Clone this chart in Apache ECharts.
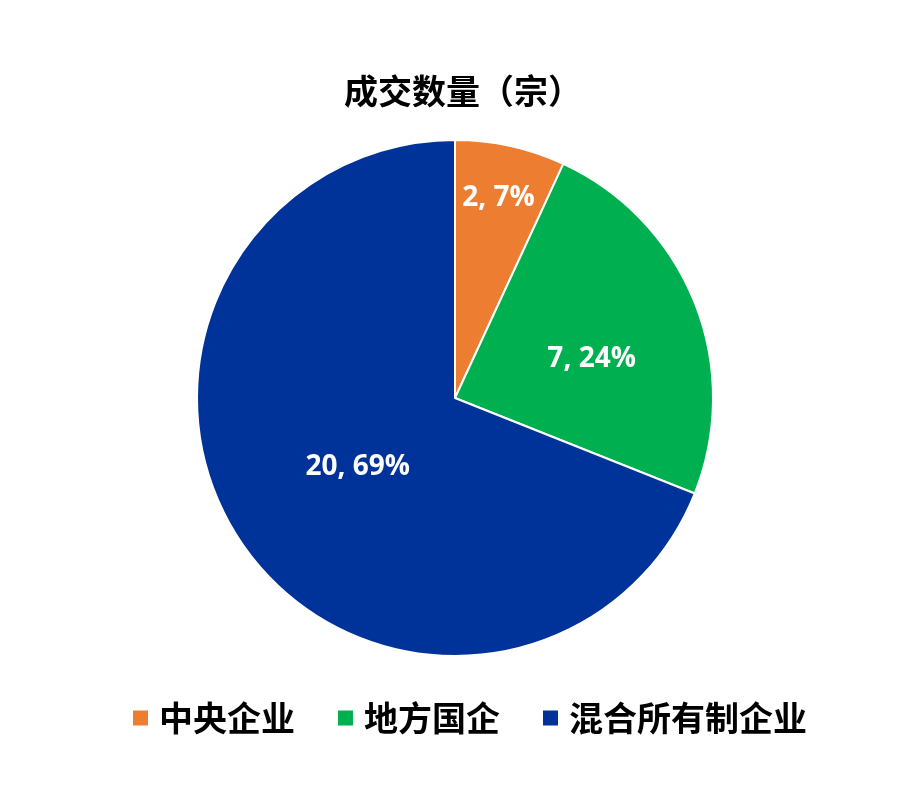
<!DOCTYPE html>
<html style="height: 100%">

<head>
    <meta charset="utf-8">
    <script src="https://cdn.jsdelivr.net/npm/echarts@6/dist/echarts.min.js"></script>
</head>

<body style="height: 100%; margin: 0; background: #fff">
    <div id="main" style="width: 909px; height: 789px"></div>
    <script type="text/javascript">
        var names = ['中央企业', '地方国企', '混合所有制企业'];
        var counts = [2, 7, 20];
        var colors = ['#ED7D31', '#00B050', '#003399'];
        // label nudges (excel "best fit" style placement)
        var labelShift = [[15, -71], [14, 10], [12, -5]];

        var myChart = echarts.init(document.getElementById('main'));
        myChart.setOption({
            animation: false,
            title: {
                text: '成交数量（宗）',
                left: 339,
                top: 69,
                textStyle: {
                    fontFamily: 'Noto Sans CJK SC',
                    fontSize: 34,
                    fontWeight: 'bold',
                    color: '#000'
                }
            },
            legend: {
                bottom: 49,
                left: 126,
                icon: 'rect',
                itemWidth: 17,
                itemHeight: 17,
                itemGap: 41,
                textStyle: {
                    fontFamily: 'Noto Sans CJK SC',
                    fontSize: 34,
                    fontWeight: 'bold',
                    color: '#000',
                    padding: [0, 0, 0, 5]
                },
                data: names
            },
            series: [{
                type: 'pie',
                center: [455, 398],
                radius: [0, 258],
                startAngle: 90,
                clockwise: true,
                percentPrecision: 0,
                itemStyle: {
                    borderColor: '#fff',
                    borderWidth: 2
                },
                label: {
                    show: true,
                    position: 'inside',
                    formatter: '{c}, {d}%',
                    fontFamily: 'Open Sans',
                    fontSize: 28,
                    fontWeight: 'bold',
                    color: '#fff'
                },
                labelLine: { show: false },
                labelLayout: function (params) {
                    var s = labelShift[params.dataIndex];
                    return { dx: s[0], dy: s[1] };
                },
                emphasis: { disabled: true },
                data: names.map(function (n, i) {
                    return { name: n, value: counts[i], itemStyle: { color: colors[i] } };
                })
            }]
        });
    </script>
</body>

</html>
